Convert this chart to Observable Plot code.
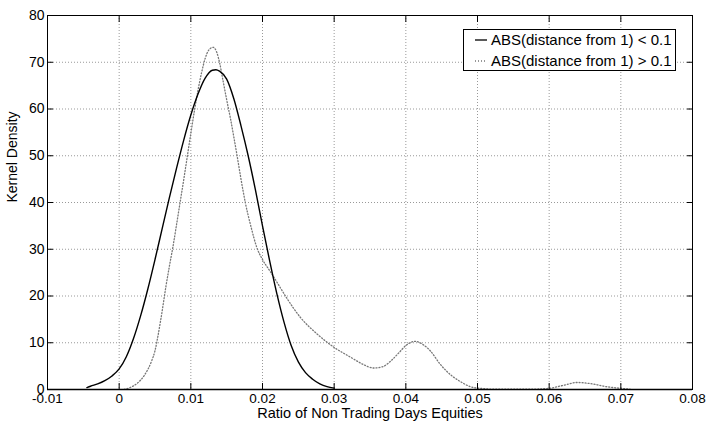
<!DOCTYPE html>
<html><head><meta charset="utf-8">
<script src="https://cdn.jsdelivr.net/npm/d3@7"></script>
<script src="https://cdn.jsdelivr.net/npm/@observablehq/plot@0.6"></script>
<style>
html,body{margin:0;padding:0;background:#fff;}
#wrap{position:relative;width:710px;height:424px;font-family:"Liberation Sans",Arial,Helvetica,sans-serif;}
#legend{position:absolute;left:463px;top:29px;width:213px;height:42px;border:1px solid #000;background:#fff;box-sizing:border-box;}
#legend .row{position:absolute;left:0;height:16px;width:100%;}
#legend svg{position:absolute;left:10px;top:0;}
#legend span{position:absolute;left:27px;top:0;font-size:15px;line-height:16px;white-space:nowrap;color:#000;}
</style></head>
<body><div id="wrap"></div>
<script>
// ---- data ----
const xTicks = [-0.01, 0, 0.01, 0.02, 0.03, 0.04, 0.05, 0.06, 0.07, 0.08];
const xTickLabels = ["-0.01", "0", "0.01", "0.02", "0.03", "0.04", "0.05", "0.06", "0.07", "0.08"];
const yTicks = [0, 10, 20, 30, 40, 50, 60, 70, 80];
const yTickLabels = ["0", "10", "20", "30", "40", "50", "60", "70", "80"];
const seriesNames = ["ABS(distance from 1) < 0.1", "ABS(distance from 1) > 0.1"];
const xLabel = "Ratio of Non Trading Days Equities";
const yLabel = "Kernel Density";

// series 1 (solid): ABS(distance from 1) < 0.1
const solidX = [-0.0045, -0.004, -0.003, -0.002, -0.001, 0, 0.001, 0.002, 0.003, 0.004, 0.005, 0.006, 0.007, 0.008, 0.009, 0.010, 0.011, 0.012, 0.013, 0.0135, 0.014, 0.015, 0.016, 0.017, 0.018, 0.019, 0.020, 0.021, 0.022, 0.023, 0.024, 0.025, 0.026, 0.027, 0.028, 0.029, 0.030];
const solidY = [0.4, 0.7, 1.2, 1.9, 2.9, 4.4, 7.0, 10.9, 15.8, 21.5, 27.8, 34.4, 41.0, 47.3, 53.3, 58.7, 63.2, 66.6, 68.3, 68.4, 68.1, 66.4, 62.2, 56.4, 50, 42.8, 35, 27.5, 20.5, 14.4, 9.4, 5.9, 3.6, 2.2, 1.2, 0.6, 0.3];

// series 2 (dotted): ABS(distance from 1) > 0.1
const dottedX = [0.0007, 0.0015, 0.0025, 0.0035, 0.0045, 0.0050, 0.0055, 0.0060, 0.0065, 0.0070, 0.0075, 0.0080, 0.0085, 0.0090, 0.0095, 0.0100, 0.0105, 0.0110, 0.0115, 0.0120, 0.0125, 0.0131, 0.0136, 0.0140, 0.0145, 0.0150, 0.0155, 0.0160, 0.0165, 0.0170, 0.0176, 0.0184, 0.0192, 0.0200, 0.0211, 0.0222, 0.0232, 0.0253, 0.0276, 0.0300, 0.0323, 0.0340, 0.0355, 0.0368, 0.0379, 0.0390, 0.0400, 0.0413, 0.0424, 0.0434, 0.0448, 0.0462, 0.0476, 0.0490, 0.0500, 0.0530, 0.0570, 0.0600, 0.0620, 0.0639, 0.0660, 0.0680, 0.0700, 0.0713];
const dottedY = [0, 0.4, 1.3, 3.0, 6.0, 8.3, 12.2, 16.8, 21.8, 26.3, 30.5, 35.2, 40, 44.8, 49.8, 54.8, 59.6, 64, 67.8, 70.8, 72.6, 73.2, 72.2, 70, 66, 62, 58.2, 54, 49.6, 45, 40, 34.8, 30.4, 27.8, 25.2, 22.5, 20, 15.4, 11.9, 9.0, 6.9, 5.4, 4.6, 4.9, 6.1, 7.8, 9.4, 10.3, 9.6, 8.3, 5.4, 3.2, 1.7, 0.6, 0.3, 0.05, 0.05, 0.25, 0.9, 1.5, 1.2, 0.6, 0.25, 0.05];

const solid = solidX.map((x, i) => ({x, y: solidY[i]}));
const dotted = dottedX.map((x, i) => ({x, y: dottedY[i]}));
const fmtX = d => xTickLabels[xTicks.indexOf(d)];
const fmtY = d => yTickLabels[yTicks.indexOf(d)];

const chart = Plot.plot({
  width: 710,
  height: 424,
  marginLeft: 47,
  marginRight: 18,
  marginTop: 15,
  marginBottom: 35,
  style: {fontFamily: '"Liberation Sans", Arial, Helvetica, sans-serif', fontSize: "14px", color: "#000", background: "#fff"},
  x: {domain: [-0.01, 0.08]},
  y: {domain: [0, 80]},
  marks: [
    Plot.gridX(xTicks, {stroke: "#999", strokeOpacity: 1, strokeDasharray: "1,2", strokeWidth: 1}),
    Plot.gridY(yTicks, {stroke: "#999", strokeOpacity: 1, strokeDasharray: "1,2", strokeWidth: 1}),
    Plot.line(dotted, {x: "x", y: "y", curve: "monotone-x", stroke: "#777", strokeWidth: 1.3, strokeDasharray: "1,2", clip: true}),
    Plot.line(solid, {x: "x", y: "y", curve: "monotone-x", stroke: "#000", strokeWidth: 1.4, clip: true}),
    Plot.frame({stroke: "#000", strokeWidth: 1}),
    Plot.ruleY([0], {stroke: "#000", strokeWidth: 1.6}),
    // inward ticks on all four sides
    Plot.axisX(xTicks, {anchor: "bottom", tickSize: 6, dy: -6, fill: "none", label: null}),
    Plot.axisX(xTicks, {anchor: "top", tickSize: 6, dy: 6, fill: "none", label: null}),
    Plot.axisY(yTicks, {anchor: "left", tickSize: 6, dx: 6, fill: "none", label: null}),
    Plot.axisY(yTicks, {anchor: "right", tickSize: 6, dx: -6, fill: "none", label: null}),
    // tick labels
    Plot.axisX(xTicks, {anchor: "bottom", tickSize: 0, tickPadding: 4, stroke: "none", tickFormat: fmtX, fontSize: 13.5, label: null}),
    Plot.axisY(yTicks, {anchor: "left", tickSize: 0, tickPadding: 3, stroke: "none", tickFormat: fmtY, fontSize: 14, label: null}),
    // axis titles
    Plot.text([xLabel], {text: d => d, frameAnchor: "bottom", dy: 28, fontSize: 14.5}),
    Plot.text([yLabel], {text: d => d, frameAnchor: "left", dx: -35, rotate: -90, fontSize: 14})
  ]
});

const wrap = document.getElementById("wrap");
wrap.appendChild(chart);

// legend
const legend = document.createElement("div");
legend.id = "legend";
const rowTops = [2, 23];
seriesNames.forEach((name, i) => {
  const row = document.createElement("div");
  row.className = "row";
  row.style.top = rowTops[i] + "px";
  const dash = i === 0 ? "" : ' stroke-dasharray="1,2"';
  const col = i === 0 ? "#000" : "#777";
  row.innerHTML = `<svg width="14" height="16"><line x1="1" x2="13" y1="8" y2="8" stroke="${col}" stroke-width="1.3"${dash}/></svg><span>${name}</span>`;
  legend.appendChild(row);
});
wrap.appendChild(legend);
</script>
</body></html>
